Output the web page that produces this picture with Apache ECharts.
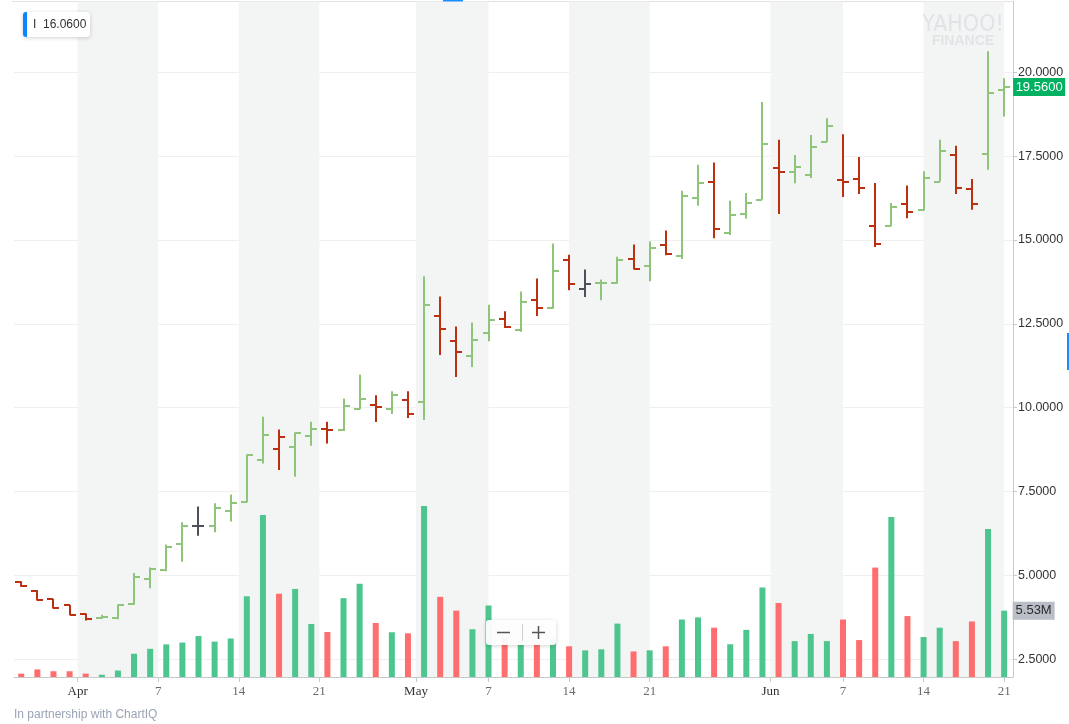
<!DOCTYPE html>
<html>
<head>
<meta charset="utf-8">
<script src="https://cdn.jsdelivr.net/npm/echarts@6/dist/echarts.min.js"></script>
<style>
html,body{margin:0;padding:0;background:#fff;}
#c{width:1069px;height:724px;}
</style>
</head>
<body>
<div id="c"></div>
<script>
// ---- data ----
const opens  = [4.81,4.54,4.29,4.10,3.84,3.72,3.72,4.14,4.89,5.15,5.94,6.48,6.48,6.93,7.19,8.45,8.78,8.81,9.15,9.36,9.32,9.97,10.09,9.97,10.24,10.18,12.74,11.98,11.55,12.21,12.65,12.30,13.22,12.98,14.41,13.54,13.72,13.72,14.44,14.23,14.86,14.53,16.24,16.74,15.20,15.77,16.20,17.13,17.03,16.94,17.92,16.79,16.82,15.43,15.43,16.08,15.88,16.74,17.54,16.53,17.57,19.47];
const highs  = [4.82,4.56,4.30,4.11,3.86,3.82,4.13,5.07,5.23,5.92,6.58,7.05,7.15,7.41,8.60,9.73,9.35,9.26,9.58,9.58,10.27,10.99,10.37,10.49,10.49,13.92,13.31,12.42,12.54,13.07,12.87,13.46,13.85,14.89,14.56,14.12,13.82,14.50,14.86,14.95,15.28,16.47,17.24,17.31,16.17,16.40,19.11,17.99,17.53,18.13,18.63,18.15,17.47,16.70,16.10,16.62,17.05,17.99,17.81,16.82,20.63,19.82];
const lows   = [4.66,4.25,4.01,3.81,3.65,3.70,3.69,4.12,4.61,5.12,5.40,6.18,6.28,6.60,7.17,8.33,8.14,7.94,8.86,8.93,9.30,9.95,9.57,9.81,9.69,9.63,11.57,10.91,11.21,11.98,12.37,12.26,12.73,12.95,13.50,13.30,13.20,13.70,14.12,13.77,14.54,14.43,16.02,15.05,15.15,15.63,16.20,15.77,16.69,16.85,17.92,16.28,16.37,14.79,15.41,15.65,15.88,16.74,16.37,15.90,17.09,18.68];
const closes = [4.67,4.26,4.02,3.82,3.70,3.76,4.12,4.95,5.19,5.84,6.48,6.48,7.01,7.15,8.58,9.18,9.11,9.23,9.35,9.33,10.06,10.27,10.03,10.39,9.82,13.07,12.35,11.67,12.03,12.62,12.41,13.16,12.98,14.07,13.70,13.70,13.72,14.40,14.13,14.77,14.57,16.31,16.70,15.34,15.74,16.10,17.87,17.03,17.16,17.78,18.41,16.72,16.55,14.89,15.98,15.84,16.86,17.64,16.55,16.08,19.37,19.56];
const volumesM = [0.28,0.63,0.48,0.48,0.28,0.19,0.54,1.94,2.35,2.72,2.87,3.41,2.95,3.21,6.73,13.5,6.94,7.34,4.42,3.75,6.57,7.77,4.50,3.73,3.64,14.25,6.68,5.53,3.98,5.96,3.3,3.0,2.9,3.2,2.56,2.22,2.31,4.45,2.13,2.22,2.56,4.79,4.97,4.11,2.73,3.93,7.46,6.17,2.99,3.59,2.99,4.79,3.08,9.12,13.33,5.08,3.33,4.11,2.99,4.63,12.33,5.53];
const tickLabels = ['Apr','7','14','21','May','7','14','21','Jun','7','14','21'];
const tickPos    = [3.5,8.5,13.5,18.5,24.5,29,34,39,46.5,51,56,61];
const monthLabels = ['Apr','May','Jun'];
const priceTicks = [2.5,5,7.5,10,12.5,15,17.5,20];
const legendValue = '16.0600';

// ---- derived ----
const GREEN='#8fc57a', RED='#bc3012', GRAY='#4b5059';
const VGREEN='#4cc68e', VRED='#ff6e6e';
function dirOf(i){
  const prev = i>0 ? closes[i-1] : opens[i];
  if (closes[i] > prev) return 1;
  if (closes[i] < prev) return -1;
  return 0;
}
const ohlcData = closes.map((c,i)=>[i, opens[i], highs[i], lows[i], c]);
const volData = volumesM.map((v,i)=>({value:[i,v], itemStyle:{color: dirOf(i)>=0?VGREEN:VRED}}));
const bands = [];
for (let k=0;k+1<tickPos.length;k+=2){
  bands.push([{xAxis:tickPos[k]},{xAxis:tickPos[k+1]}]);
}
const last = closes.length-1;

const chart = echarts.init(document.getElementById('c'), null, {renderer:'canvas'});
const option = {
  animation:false,
  backgroundColor:'#fff',
  grid:{left:14,right:56,top:1.5,bottom:47,outerBoundsMode:'none',containLabel:false},
  xAxis:{
    type:'value', min:-0.45, max:61.55,
    axisLine:{show:true,onZero:false,lineStyle:{color:'#c8c8c8',width:1}},
    axisTick:{show:true,customValues:tickPos,length:5,lineStyle:{color:'#c8c8c8'}},
    splitLine:{show:false},
    axisLabel:{
      customValues:tickPos, margin:8,
      fontFamily:'Liberation Serif', fontSize:13, color:'#6b6b6b',
      formatter:function(v){
        let k=-1; for(let j=0;j<tickPos.length;j++){ if(Math.abs(tickPos[j]-v)<1e-6){k=j;break;} }
        if(k<0) return '';
        const t=tickLabels[k];
        return monthLabels.indexOf(t)>=0 ? '{m|'+t+'}' : t;
      },
      rich:{m:{fontFamily:'Liberation Serif',fontSize:13,color:'#333'}}
    }
  },
  yAxis:[{
    type:'value', position:'right', min:1.966, max:22.11, scale:true,
    axisLine:{show:true,onZero:false,lineStyle:{color:'#c8c8c8'}},
    axisTick:{show:true,customValues:priceTicks,length:4,inside:false,lineStyle:{color:'#c8c8c8'}},
    splitLine:{show:true,lineStyle:{color:'#efefef',width:1}},
    axisLabel:{customValues:priceTicks,margin:5,fontFamily:'Liberation Sans',fontSize:12.5,color:'#333',
      formatter:v=>v.toFixed(4)}
  },{
    type:'value', min:0, max:56.3, show:false, splitLine:{show:false},
    axisLine:{show:false,onZero:false}, axisTick:{show:false}, axisLabel:{show:false}
  }],
  series:[
    {
      type:'bar', name:'Volume', xAxisIndex:0, yAxisIndex:1, barWidth:6,
      data:volData, z:2,
      markArea:{silent:true, itemStyle:{color:'#f3f4f4'}, data:bands, z:0},
      markPoint:{
        silent:true, symbol:'rect', symbolSize:[42,18], symbolOffset:[29.5,0],
        itemStyle:{color:'#b9bec7'},
        label:{show:true,position:'inside',color:'#2c2c2c',fontFamily:'Liberation Sans',fontSize:13,
          formatter:p=>p.value.toFixed(2)+'M'},
        data:[{coord:[last, volumesM[last]], value:volumesM[last]}]
      }
    },
    {
      type:'custom', name:'Price', xAxisIndex:0, yAxisIndex:0, z:3,
      encode:{x:0,y:[1,2,3,4]},
      data:ohlcData,
      renderItem:function(params, api){
        const i=api.value(0);
        const o=api.coord([i,api.value(1)]), h=api.coord([i,api.value(2)]),
              l=api.coord([i,api.value(3)]), c=api.coord([i,api.value(4)]);
        const x=Math.round(o[0]);
        const d=dirOf(i);
        const col = d>0?GREEN:(d<0?RED:GRAY);
        const st={stroke:col,lineWidth:2};
        return {type:'group',children:[
          {type:'line',shape:{x1:x,y1:h[1],x2:x,y2:l[1]},style:st},
          {type:'line',shape:{x1:x-6,y1:Math.round(o[1]),x2:x,y2:Math.round(o[1])},style:st},
          {type:'line',shape:{x1:x,y1:Math.round(c[1]),x2:x+6,y2:Math.round(c[1])},style:st}
        ]};
      },
      markPoint:{
        silent:true, symbol:'rect', symbolSize:[52,18], symbolOffset:[35,0],
        itemStyle:{color:'#00b161'},
        label:{show:true,position:'inside',color:'#fff',fontFamily:'Liberation Sans',fontSize:13,
          formatter:p=>p.value.toFixed(4)},
        data:[{coord:[last, closes[last]], value:closes[last]}]
      }
    }
  ],
  graphic:[
    {type:'line',shape:{x1:12,y1:1.5,x2:1013,y2:1.5},style:{stroke:'#e2e2e2',lineWidth:1},silent:true},
    {type:'rect',shape:{x:443,y:0,width:20,height:2},style:{fill:'#1a8cff'},silent:true},
    {type:'rect',shape:{x:1067,y:333,width:2,height:37},style:{fill:'#1a8cff'},silent:true},
    // legend box
    {type:'rect',shape:{x:23,y:12,width:67,height:25,r:3},
      style:{fill:'#fff',shadowBlur:4,shadowColor:'rgba(0,0,0,0.18)',shadowOffsetY:1},z:50,silent:true},
    {type:'rect',shape:{x:23,y:12,width:4,height:25,r:[3,0,0,3]},style:{fill:'#0a84ff'},z:51,silent:true},
    {type:'text',x:33,y:24.5,z:52,silent:true,
      style:{text:'I  '+legendValue,fill:'#333',font:'12px "Liberation Sans"',verticalAlign:'middle'}},
    // watermark
    {type:'text',x:963,y:25,z:1,silent:true,
      style:{text:'YAHOO!',fill:'#e1e4e7',font:'23px "DejaVu Sans Condensed"',align:'center',verticalAlign:'middle'}},
    {type:'text',x:963,y:41,z:1,silent:true,
      style:{text:'FINANCE',fill:'#e1e4e7',font:'bold 14px "Liberation Sans"',align:'center',verticalAlign:'middle'}},
    // zoom control
    {type:'rect',shape:{x:486,y:620,width:70,height:25,r:3},
      style:{fill:'rgba(255,255,255,0.95)',shadowBlur:4,shadowColor:'rgba(0,0,0,0.18)',shadowOffsetY:1},z:60,silent:true},
    {type:'line',shape:{x1:497,y1:632.5,x2:510,y2:632.5},style:{stroke:'#555',lineWidth:1.5},z:61,silent:true},
    {type:'line',shape:{x1:522.5,y1:624,x2:522.5,y2:641},style:{stroke:'#d0d0d0',lineWidth:1},z:61,silent:true},
    {type:'line',shape:{x1:532,y1:632.5,x2:545,y2:632.5},style:{stroke:'#555',lineWidth:1.5},z:61,silent:true},
    {type:'line',shape:{x1:538.5,y1:626,x2:538.5,y2:639},style:{stroke:'#555',lineWidth:1.5},z:61,silent:true},
    // footer
    {type:'text',x:14,y:715,silent:true,
      style:{text:'In partnership with ChartIQ',fill:'#9aa3b5',font:'12px "Liberation Sans"',verticalAlign:'middle'}}
  ]
};
chart.setOption(option);
</script>
</body>
</html>
